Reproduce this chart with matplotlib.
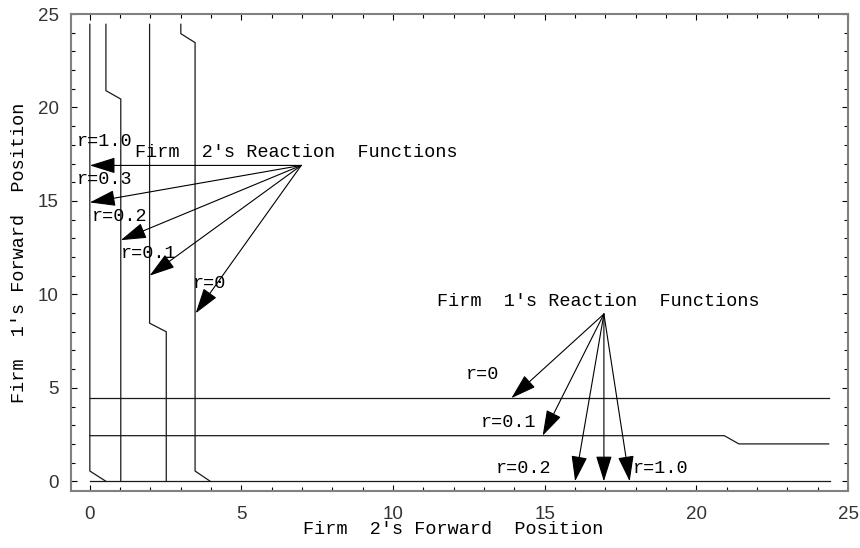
import numpy as np
import matplotlib
matplotlib.use("Agg")
import matplotlib.pyplot as plt

# Firm 2's reaction functions: firm 2's position (x) against firm 1's position (y)
f2_r0_x = [3.0, 3.0, 3.47, 3.47, 3.97]
f2_r0_y = [24.45, 23.95, 23.47, 0.55, 0.0]
f2_r01_x = [1.97, 1.97, 2.52, 2.52]
f2_r01_y = [24.45, 8.46, 8.0, 0.0]
f2_r02_x = [0.53, 0.53, 1.02, 1.02]
f2_r02_y = [24.45, 20.9, 20.45, 0.0]
f2_r1_x = [0.0, 0.0, 0.53]
f2_r1_y = [24.45, 0.55, 0.0]

# Firm 1's reaction functions
f1_r0_x = [0.0, 24.36]
f1_r0_y = [4.45, 4.45]
f1_r01_x = [0.0, 20.92, 21.4, 24.36]
f1_r01_y = [2.44, 2.44, 2.0, 2.0]
f1_r1_x = [0.0, 24.4]
f1_r1_y = [0.0, 0.0]

# annotation arrows: common tail and the tips on each curve
f2_tail = (6.97, 16.9)
f2_tips = [(0.0, 16.9), (0.0, 14.92), (1.02, 12.9), (1.97, 11.0), (3.49, 8.99)]
f2_labels = ["r=1.0", "r=0.3", "r=0.2", "r=0.1", "r=0"]
f2_label_pos = [(-0.44, 18.2), (-0.44, 16.17), (0.05, 14.16), (1.02, 12.18), (3.4, 10.6)]

f1_tail = (16.95, 8.95)
f1_tips = [(13.9, 4.45), (14.93, 2.44), (16.0, 0.0), (16.95, 0.0), (17.8, 0.0)]
f1_labels = ["r=0", "r=0.1", "r=0.2", "r=1.0"]
f1_label_pos = [(12.4, 5.7), (12.9, 3.17), (13.4, 0.71), (17.9, 0.71)]

xticks = [0, 5, 10, 15, 20, 25]
yticks = [0, 5, 10, 15, 20, 25]

mono = "Liberation Mono"
fs = 13.3
lc = "#1a1a1a"

fig = plt.figure(figsize=(8.6, 5.48), dpi=100)
ax = fig.add_axes([0.0826, 0.104, 0.9035, 0.8704])

for xs, ys in [(f2_r0_x, f2_r0_y), (f2_r01_x, f2_r01_y), (f2_r02_x, f2_r02_y),
               (f2_r1_x, f2_r1_y), (f1_r0_x, f1_r0_y), (f1_r01_x, f1_r01_y),
               (f1_r1_x, f1_r1_y)]:
    ax.plot(xs, ys, color=lc, lw=0.9, solid_joinstyle="miter")

arrow = dict(arrowstyle="-|>,head_length=1.6,head_width=0.5", color="black",
             lw=0.8, shrinkA=0, shrinkB=0, mutation_scale=10)
for tip in f2_tips:
    ax.annotate("", xy=tip, xytext=f2_tail, arrowprops=arrow)
for tip in f1_tips:
    ax.annotate("", xy=tip, xytext=f1_tail, arrowprops=arrow)

for s, (x, y) in zip(f2_labels, f2_label_pos):
    ax.text(x, y, s, family=mono, fontsize=fs, ha="left", va="center")
for s, (x, y) in zip(f1_labels, f1_label_pos):
    ax.text(x, y, s, family=mono, fontsize=fs, ha="left", va="center")

ax.text(1.48, 17.6, "Firm  2's Reaction  Functions", family=mono, fontsize=fs,
        ha="left", va="center")
ax.text(11.45, 9.63, "Firm  1's Reaction  Functions", family=mono, fontsize=fs,
        ha="left", va="center")

ax.set_xlim(-0.62, 25.0)
ax.set_ylim(-0.52, 24.97)
ax.set_xticks(xticks)
ax.set_yticks(yticks)
ax.set_xticks(np.arange(0, 26, 1), minor=True)
ax.set_yticks(np.arange(0, 26, 1), minor=True)
ax.tick_params(which="both", direction="in", top=True, right=True,
               color="black", width=0.8)
ax.tick_params(which="major", length=4)
ax.tick_params(which="minor", length=3)
ax.tick_params(axis="x", pad=11)
ax.tick_params(axis="y", pad=9)
for lab in ax.get_xticklabels() + ax.get_yticklabels():
    lab.set_family("Liberation Sans")
    lab.set_fontsize(13.5)
    lab.set_color("#333333")
for sp in ax.spines.values():
    sp.set_color("#808080")
    sp.set_linewidth(1.5)

ax.set_xlabel("Firm  2's Forward  Position", family=mono, fontsize=fs)
ax.xaxis.set_label_coords(0.492, -0.062)
ax.set_ylabel("Firm  1's Forward  Position", family=mono, fontsize=fs)
ax.yaxis.set_label_coords(-0.056, 0.5)

fig.savefig("out.png", dpi=100)
